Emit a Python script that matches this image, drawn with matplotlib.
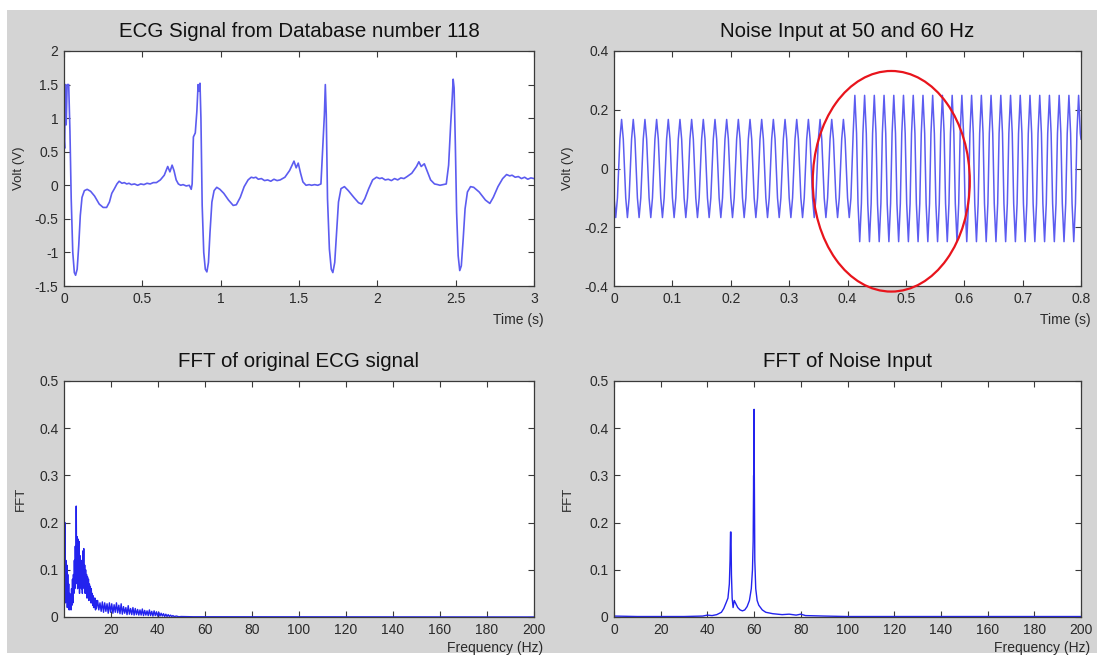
import numpy as np
import matplotlib
matplotlib.use('Agg')
import matplotlib.pyplot as plt
from matplotlib.patches import Ellipse, Rectangle
from matplotlib.ticker import FormatStrFormatter

plt.rcParams['font.family'] = ['Liberation Sans', 'DejaVu Sans']

# --- ECG record 118, 0-3 s (keypoints) ---
ecg_t = [0.000, 0.004, 0.008, 0.014, 0.020, 0.030, 0.038, 0.046, 0.056, 0.066,
         0.074, 0.084, 0.094, 0.104, 0.115, 0.130, 0.148, 0.170, 0.195, 0.225,
         0.250, 0.272, 0.290, 0.305, 0.322, 0.338, 0.352, 0.370, 0.385, 0.400,
         0.415, 0.430, 0.450, 0.470, 0.490, 0.510, 0.530, 0.550, 0.570, 0.590,
         0.615, 0.640, 0.662, 0.676, 0.690, 0.702, 0.716, 0.730, 0.745, 0.760,
         0.780, 0.800, 0.812, 0.818, 0.826, 0.838, 0.848, 0.856, 0.862, 0.868,
         0.874, 0.882, 0.892, 0.902, 0.912, 0.922, 0.932, 0.944, 0.958, 0.975,
         0.995, 1.020, 1.050, 1.080, 1.100, 1.125, 1.150, 1.175, 1.195, 1.210,
         1.225, 1.240, 1.260, 1.280, 1.300, 1.320, 1.340, 1.360, 1.380, 1.410,
         1.440, 1.468, 1.482, 1.495, 1.510, 1.525, 1.545, 1.565, 1.580, 1.600,
         1.620, 1.640, 1.652, 1.662, 1.668, 1.674, 1.682, 1.694, 1.706, 1.716,
         1.728, 1.740, 1.752, 1.768, 1.790, 1.815, 1.850, 1.880, 1.900, 1.920,
         1.945, 1.970, 1.995, 2.015, 2.030, 2.050, 2.070, 2.090, 2.110, 2.130,
         2.150, 2.170, 2.190, 2.220, 2.250, 2.265, 2.280, 2.300, 2.320, 2.340,
         2.365, 2.385, 2.400, 2.420, 2.440, 2.455, 2.468, 2.478, 2.484, 2.490,
         2.498, 2.506, 2.516, 2.526, 2.536, 2.548, 2.560, 2.575, 2.595, 2.615,
         2.650, 2.690, 2.718, 2.740, 2.770, 2.800, 2.825, 2.845, 2.860, 2.880,
         2.900, 2.920, 2.940, 2.960, 2.980, 3.000]
ecg_v = [0.70, 0.55, 1.50, 0.90, 1.50, 1.50, 0.80, -0.20, -1.00, -1.30,
         -1.34, -1.25, -0.90, -0.45, -0.18, -0.08, -0.06, -0.09, -0.16, -0.28,
         -0.33, -0.33, -0.25, -0.12, -0.05, 0.02, 0.06, 0.03, 0.04, 0.02,
         0.03, 0.01, 0.02, 0.00, 0.02, 0.01, 0.03, 0.02, 0.04, 0.04,
         0.08, 0.15, 0.28, 0.20, 0.30, 0.22, 0.08, 0.02, 0.00, 0.01,
         -0.01, 0.00, -0.06, 0.02, 0.72, 0.78, 1.10, 1.50, 1.40, 1.52,
         1.00, -0.30, -1.00, -1.25, -1.29, -1.15, -0.70, -0.25, -0.08, -0.03,
         -0.06, -0.12, -0.22, -0.30, -0.29, -0.18, -0.02, 0.08, 0.12, 0.11,
         0.12, 0.09, 0.10, 0.07, 0.08, 0.06, 0.09, 0.07, 0.08, 0.12,
         0.22, 0.36, 0.26, 0.33, 0.18, 0.05, 0.00, 0.01, 0.00, 0.01,
         0.00, 0.02, 0.60, 1.05, 1.50, 1.05, -0.20, -0.95, -1.25, -1.30,
         -1.15, -0.70, -0.25, -0.05, -0.02, -0.08, -0.18, -0.26, -0.28, -0.20,
         -0.05, 0.08, 0.12, 0.10, 0.11, 0.08, 0.09, 0.07, 0.10, 0.08,
         0.11, 0.10, 0.13, 0.18, 0.28, 0.35, 0.28, 0.32, 0.20, 0.08,
         0.02, 0.01, 0.00, 0.01, 0.02, 0.30, 0.90, 1.30, 1.58, 1.45,
         0.60, -0.40, -1.05, -1.27, -1.20, -0.80, -0.35, -0.10, -0.02, -0.03,
         -0.10, -0.22, -0.27, -0.18, -0.02, 0.10, 0.16, 0.14, 0.15, 0.12,
         0.13, 0.10, 0.12, 0.09, 0.11, 0.10]

# --- noise input: 50 Hz then 60 Hz (peak / trough times) ---
noise50_peak_t = [0.013, 0.033, 0.053, 0.073, 0.093, 0.113, 0.133, 0.153, 0.173, 0.193,
                  0.213, 0.233, 0.253, 0.273, 0.293, 0.313, 0.333, 0.353, 0.373, 0.393]
noise50_trough_t = [0.003, 0.023, 0.043, 0.063, 0.083, 0.103, 0.123, 0.143, 0.163, 0.183,
                    0.203, 0.223, 0.243, 0.263, 0.283, 0.303, 0.323, 0.343, 0.363, 0.383,
                    0.403]
noise60_peak_t = [0.4126, 0.4293, 0.4459, 0.4626, 0.4793, 0.4959, 0.5126, 0.5293,
                  0.5459, 0.5626, 0.5793, 0.5959, 0.6126, 0.6293, 0.6459, 0.6626,
                  0.6793, 0.6959, 0.7126, 0.7293, 0.7459, 0.7626, 0.7793, 0.7959]
noise60_trough_t = [0.4209, 0.4376, 0.4543, 0.4709, 0.4876, 0.5043, 0.5209, 0.5376,
                    0.5543, 0.5709, 0.5876, 0.6043, 0.6209, 0.6376, 0.6543, 0.6709,
                    0.6876, 0.7043, 0.7209, 0.7376, 0.7543, 0.7709, 0.7876]
# levels: peak, shoulder next to the peak
noise50_levels = (0.167, 0.10)
noise60_levels = (0.249, 0.12)
noise_shoulder_dt = 0.0029
noise_ends_t = [0.000, 0.800]
noise_ends_v = [-0.06, 0.10]

# --- FFT of ECG ---
fft_ecg_f = [0.2, 0.4, 0.6, 0.8, 1.0, 1.2, 1.4, 1.6, 1.8, 2.0,
             2.2, 2.4, 2.6, 2.8, 3.0, 3.2, 3.4, 3.6, 3.8, 4.0,
             4.2, 4.4, 4.6, 4.8, 5.0, 5.2, 5.4, 5.6, 5.8, 6.0,
             6.2, 6.4, 6.6, 6.8, 7.0, 7.2, 7.4, 7.6, 7.8, 8.0,
             8.2, 8.4, 8.6, 8.8, 9.0, 9.2, 9.4, 9.6, 9.8, 10.0,
             10.2, 10.4, 10.6, 10.8, 11.0, 11.2, 11.4, 11.6, 11.8, 12.0,
             12.2, 12.4, 12.6, 12.8, 13.0, 13.2, 13.4, 13.6, 13.8, 14.0,
             14.5, 15.0, 15.5, 16.0, 16.5, 17.0, 17.5, 18.0, 18.5, 19.0,
             19.5, 20.0, 20.5, 21.0, 21.5, 22.0, 22.5, 23.0, 23.5, 24.0,
             24.5, 25.0, 25.5, 26.0, 26.5, 27.0, 27.5, 28.0, 28.5, 29.0,
             29.5, 30.0, 30.5, 31.0, 31.5, 32.0, 32.5, 33.0, 33.5, 34.0,
             34.5, 35.0, 35.5, 36.0, 36.5, 37.0, 37.5, 38.0, 38.5, 39.0,
             39.5, 40.0, 40.5, 41.0, 41.5, 42.0, 42.5, 43.0, 43.5, 44.0,
             44.5, 45.0, 45.5, 46.0, 46.5, 47.0, 48.0, 49.0, 50.0, 55.0,
             200.0]
fft_ecg_v = [0.21, 0.04, 0.20, 0.03, 0.12, 0.05, 0.11, 0.02, 0.09, 0.03,
             0.07, 0.015, 0.05, 0.02, 0.04, 0.015, 0.06, 0.025, 0.08, 0.03,
             0.09, 0.05, 0.12, 0.06, 0.15, 0.07, 0.235, 0.08, 0.17, 0.06,
             0.165, 0.07, 0.16, 0.05, 0.13, 0.07, 0.11, 0.06, 0.12, 0.05,
             0.14, 0.07, 0.145, 0.06, 0.11, 0.05, 0.10, 0.06, 0.09, 0.04,
             0.085, 0.05, 0.08, 0.035, 0.07, 0.04, 0.065, 0.03, 0.06, 0.03,
             0.05, 0.025, 0.045, 0.02, 0.04, 0.02, 0.04, 0.015, 0.035, 0.018,
             0.035, 0.015, 0.03, 0.012, 0.032, 0.01, 0.03, 0.012, 0.028, 0.008,
             0.03, 0.01, 0.028, 0.008, 0.026, 0.01, 0.03, 0.009, 0.025, 0.007,
             0.028, 0.006, 0.022, 0.008, 0.02, 0.005, 0.024, 0.006, 0.018, 0.005,
             0.02, 0.004, 0.018, 0.005, 0.016, 0.004, 0.015, 0.004, 0.017, 0.003,
             0.014, 0.004, 0.013, 0.003, 0.015, 0.003, 0.012, 0.002, 0.013, 0.003,
             0.011, 0.002, 0.01, 0.002, 0.008, 0.002, 0.007, 0.001, 0.006, 0.001,
             0.005, 0.001, 0.004, 0.001, 0.003, 0.001, 0.002, 0.0005, 0.001, 0.0005,
             0.0]

# --- FFT of noise ---
fft_noise_f = [0, 10, 20, 30, 38, 40, 42, 44, 46, 47,
               48, 48.8, 49.4, 49.7, 49.9, 50.1, 50.3, 50.6, 51, 51.5,
               52, 53, 54, 55, 56, 57, 58, 58.8, 59.3, 59.6,
               59.8, 59.9, 60.0, 60.1, 60.3, 60.7, 61.3, 62, 63.5, 65,
               68, 72, 75, 78, 80, 82, 90, 100, 200]
fft_noise_v = [0.002, 0.001, 0.001, 0.001, 0.002, 0.004, 0.003, 0.005, 0.01, 0.018,
               0.03, 0.04, 0.07, 0.12, 0.18, 0.18, 0.09, 0.04, 0.02, 0.035,
               0.03, 0.02, 0.015, 0.013, 0.015, 0.022, 0.035, 0.06, 0.10, 0.16,
               0.30, 0.20, 0.44, 0.30, 0.12, 0.06, 0.035, 0.025, 0.015, 0.01,
               0.007, 0.005, 0.006, 0.004, 0.006, 0.003, 0.002, 0.001, 0.001]


def extremes(peak_t, trough_t, levels, dt):
    # peak plus its two shoulders, same for troughs
    pts = []
    top, sh = levels
    for t in peak_t:
        pts += [(t - dt, sh), (t, top), (t + dt, sh)]
    for t in trough_t:
        pts += [(t - dt, -sh), (t, -top), (t + dt, -sh)]
    return pts


pts = list(zip(noise_ends_t, noise_ends_v))
pts += extremes(noise50_peak_t, noise50_trough_t, noise50_levels, noise_shoulder_dt)
pts += extremes(noise60_peak_t, noise60_trough_t, noise60_levels, noise_shoulder_dt)
pts = sorted(p for p in pts if 0 <= p[0] <= 0.8)
nt = [p[0] for p in pts]
nv = [p[1] for p in pts]

W, H = 1100, 657
fig = plt.figure(figsize=(W / 100, H / 100), dpi=100, facecolor='white')
fig.patches.append(Rectangle((7 / W, 4 / H), 1090 / W, 643 / H, transform=fig.transFigure,
                             facecolor='#d4d4d4', edgecolor='none', zorder=-10))


def box(l, t, r, b):
    return [l / W, 1 - b / H, (r - l) / W, (b - t) / H]


def style(ax, title, xlabel, ylabel, xlab_y, ylab_x):
    ax.set_facecolor('white')
    for s in ax.spines.values():
        s.set_color('#3a3a3a')
        s.set_linewidth(0.9)
    ax.tick_params(direction='in', top=True, right=True, length=4, width=0.8,
                   labelsize=10, colors='#3a3a3a', labelcolor='#2a2a2a', pad=4)
    ax.set_title(title, fontsize=14.8, color='#111111', pad=10)
    ax.set_xlabel(xlabel, fontsize=10, color='#2a2a2a', ha='right')
    ax.xaxis.set_label_coords(1.02, xlab_y)
    ax.set_ylabel(ylabel, fontsize=9.5, color='#2a2a2a')
    ax.yaxis.set_label_coords(ylab_x, 0.5)


line_top = '#5c5cf0'
line_bot = '#2323ee'

# ECG signal
ax1 = fig.add_axes(box(64, 51, 534, 286))
ax1.plot(ecg_t, ecg_v, color=line_top, linewidth=1.2)
ax1.set_xlim(0, 3)
ax1.set_ylim(-1.5, 2)
ax1.set_xticks(np.arange(0, 3.01, 0.5))
ax1.set_yticks(np.arange(-1.5, 2.01, 0.5))
ax1.xaxis.set_major_formatter(FormatStrFormatter('%g'))
ax1.yaxis.set_major_formatter(FormatStrFormatter('%g'))
style(ax1, 'ECG Signal from Database number 118', 'Time (s)', 'Volt (V)', -0.115, -0.082)

# noise input
ax2 = fig.add_axes(box(614, 51, 1081, 286))
ax2.plot(nt, nv, color=line_top, linewidth=1.1)
ax2.set_xlim(0, 0.8)
ax2.set_ylim(-0.4, 0.4)
ax2.set_xticks(np.arange(0, 0.81, 0.1))
ax2.set_yticks(np.arange(-0.4, 0.41, 0.2))
ax2.xaxis.set_major_formatter(FormatStrFormatter('%g'))
ax2.yaxis.set_major_formatter(FormatStrFormatter('%g'))
style(ax2, 'Noise Input at 50 and 60 Hz', 'Time (s)', 'Volt (V)', -0.115, -0.085)
ax2.add_patch(Ellipse((0.475, -0.0435), 0.269, 0.751, fill=False, edgecolor='#e8141c',
                      linewidth=1.6, clip_on=False, zorder=5))

# FFT of ECG
ax3 = fig.add_axes(box(64, 381, 534, 617))
ax3.plot(fft_ecg_f, fft_ecg_v, color=line_bot, linewidth=1.0)
ax3.set_xlim(0.2, 200)
ax3.set_ylim(0, 0.5)
ax3.set_xticks(np.arange(20, 201, 20))
ax3.set_yticks(np.arange(0, 0.51, 0.1))
ax3.yaxis.set_major_formatter(FormatStrFormatter('%g'))
style(ax3, 'FFT of original ECG signal', 'Frequency (Hz)', 'FFT', -0.1, -0.078)

# FFT of noise
ax4 = fig.add_axes(box(614, 381, 1081, 617))
ax4.plot(fft_noise_f, fft_noise_v, color=line_bot, linewidth=1.0)
ax4.set_xlim(0, 200)
ax4.set_ylim(0, 0.5)
ax4.set_xticks(np.arange(0, 201, 20))
ax4.set_yticks(np.arange(0, 0.51, 0.1))
ax4.yaxis.set_major_formatter(FormatStrFormatter('%g'))
style(ax4, 'FFT of Noise Input', 'Frequency (Hz)', 'FFT', -0.1, -0.085)

fig.savefig('out.png', dpi=100)
